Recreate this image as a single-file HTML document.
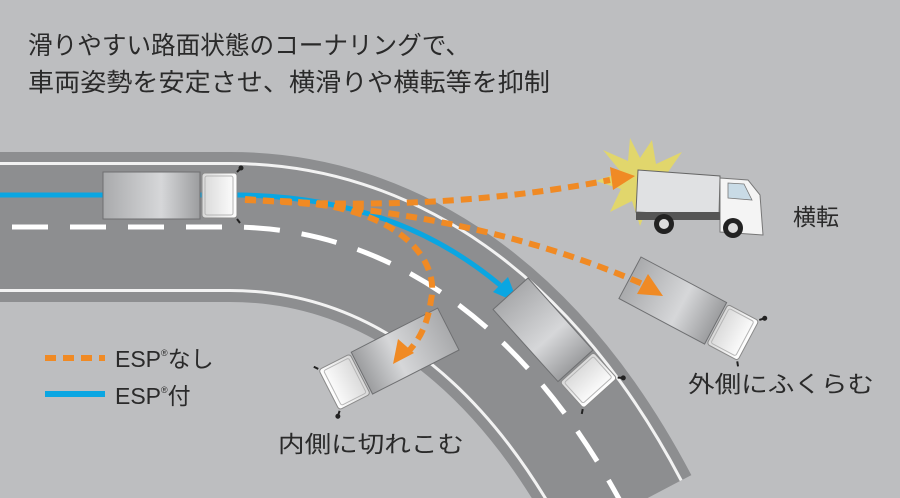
<!DOCTYPE html>
<html><head><meta charset="utf-8"><style>
html,body{margin:0;padding:0;background:#bdbec0;}
svg{display:block}
text{font-family:"Liberation Sans","Noto Sans CJK JP",sans-serif;fill:#2a2a2a;}
</style></head><body>
<svg width="900" height="498" viewBox="0 0 900 498" xmlns="http://www.w3.org/2000/svg">
<defs>
<linearGradient id="box" x1="0" x2="1" y1="0" y2="0">
<stop offset="0" stop-color="#a9aaac"/><stop offset="0.6" stop-color="#d6d7d9"/><stop offset="1" stop-color="#9c9d9f"/>
</linearGradient>
<linearGradient id="cab" x1="0" x2="1"><stop offset="0" stop-color="#d8d8d8"/><stop offset="1" stop-color="#ffffff"/></linearGradient>
<g id="truck">
<rect x="0" y="0" width="97" height="47" fill="url(#box)" stroke="#6e6f71" stroke-width="1"/>
<rect x="99" y="1" width="35" height="45" rx="3" fill="url(#cab)" stroke="#8a8a8a" stroke-width="1"/>
<rect x="102" y="4" width="28" height="39" rx="2" fill="none" stroke="#b5b5b5" stroke-width="1"/>
<path d="M134,0 l4,-4 M134,47 l3,4" stroke="#222" stroke-width="2"/>
<circle cx="138" cy="-4" r="2.5" fill="#222"/>
</g>
</defs>
<rect width="900" height="498" fill="#bdbec0"/>
<!-- road -->
<g fill="none">
<path d="M-10,227 L230,227 C385,227 525,320 625,510" stroke="#8d8e90" stroke-width="150"/>
<path d="M-10,227 L230,227 C385,227 525,320 625,510" stroke="#f2f2f2" stroke-width="130"/>
<path d="M-10,227 L230,227 C385,227 525,320 625,510" stroke="#8d8e90" stroke-width="124"/>
<path d="M0,227 L230,227 C385,227 525,320 625,510" stroke="#ffffff" stroke-width="5" stroke-dasharray="36,22" stroke-dashoffset="-12"/>
</g>
<!-- blue -->
<path d="M0,195 L240,195 C360,197 440,235 500,285" fill="none" stroke="#0aa6e2" stroke-width="5"/>
<polygon points="518,303 493,292 508,277" fill="#0aa6e2"/>
<!-- trucks on road -->
<use href="#truck" transform="translate(103,172)"/>
<use href="#truck" transform="translate(528,278) rotate(48)"/>
<use href="#truck" transform="translate(459,350) rotate(153)"/>
<use href="#truck" transform="translate(641,257) rotate(28)"/>
<!-- rollover truck -->
<polygon points="630,138 640,158 652,140 656,164 682,152 666,175 692,185 662,191 674,214 650,201 640,226 632,201 610,212 621,189 596,181 621,172 603,150 628,161" fill="#e1d66c"/>
<polygon points="638,170 720,176 719,216 636,212" fill="#e0e1e3" stroke="#666" stroke-width="1"/>
<polygon points="720,178 748,180 760,195 763,235 720,232" fill="#f4f4f4" stroke="#777" stroke-width="1"/>
<polygon points="728,183 744,184 752,200 728,198" fill="#c9dbe6" stroke="#777" stroke-width="0.8"/>
<rect x="636" y="212" width="84" height="8" fill="#555"/>
<circle cx="664" cy="224" r="10" fill="#222"/><circle cx="664" cy="224" r="5" fill="#ddd"/>
<circle cx="733" cy="228" r="10" fill="#222"/><circle cx="733" cy="228" r="5" fill="#ddd"/>
<!-- orange dashed -->
<g fill="none" stroke="#f08a24" stroke-width="6" stroke-dasharray="11,7">
<path d="M245,199 C350,208 480,205 610,180"/>
<path d="M245,200 C380,205 520,230 645,285"/>
<path d="M280,201 C400,205 440,260 431,300 C427,330 415,345 405,355"/>
</g>
<polygon points="635,176 610,167 613,190" fill="#f08a24"/>
<polygon points="663,296 637,294 648,274" fill="#f08a24"/>
<polygon points="393,364 398,339 414,353" fill="#f08a24"/>
<!-- legend -->
<line x1="45" y1="358" x2="105" y2="358" stroke="#f08a24" stroke-width="6" stroke-dasharray="11,7"/>
<line x1="45" y1="394" x2="105" y2="394" stroke="#0aa6e2" stroke-width="6"/>
<text x="115" y="367" font-size="23">ESP<tspan font-size="9" dy="-11">®</tspan><tspan dy="11">なし</tspan></text>
<text x="115" y="404" font-size="23">ESP<tspan font-size="9" dy="-11">®</tspan><tspan dy="11">付</tspan></text>
<!-- labels -->
<text x="28" y="54" font-size="25" textLength="442" lengthAdjust="spacingAndGlyphs">滑りやすい路面状態のコーナリングで、</text>
<text x="28" y="91" font-size="25" textLength="522" lengthAdjust="spacingAndGlyphs">車両姿勢を安定させ、横滑りや横転等を抑制</text>
<text x="793" y="225" font-size="23">横転</text>
<text x="688" y="392" font-size="23" textLength="186" lengthAdjust="spacingAndGlyphs">外側にふくらむ</text>
<text x="278" y="452" font-size="23" textLength="186" lengthAdjust="spacingAndGlyphs">内側に切れこむ</text>
</svg>
</body></html>
